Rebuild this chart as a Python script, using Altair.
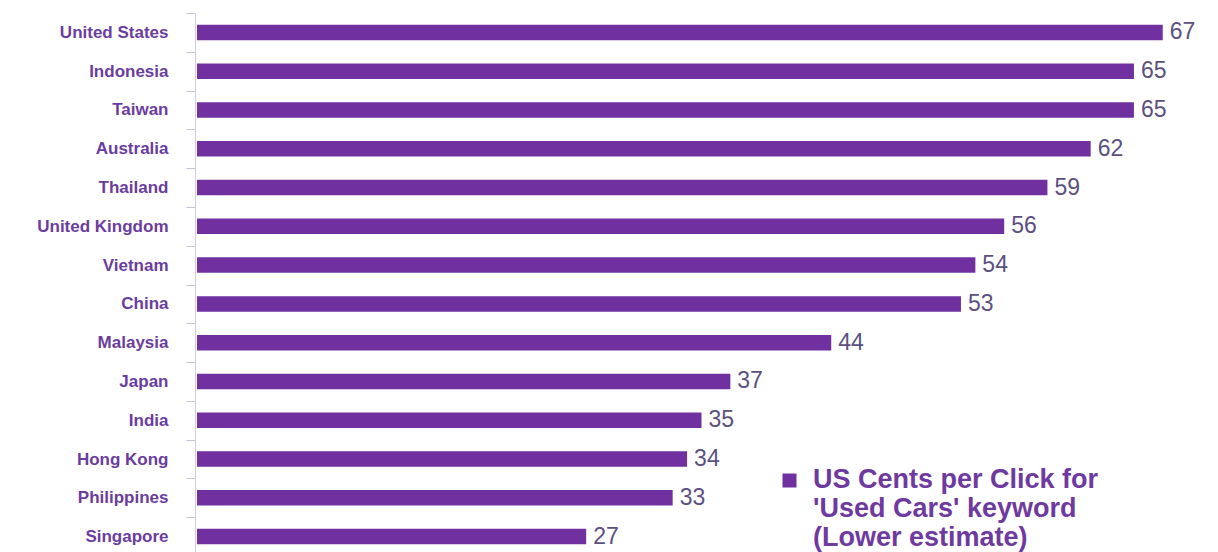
import altair as alt
import pandas as pd

countries = ["United States", "Indonesia", "Taiwan", "Australia", "Thailand",
             "United Kingdom", "Vietnam", "China", "Malaysia", "Japan", "India",
             "Hong Kong", "Philippines", "Singapore"]
cents = [67, 65, 65, 62, 59, 56, 54, 53, 44, 37, 35, 34, 33, 27]
series_name = "US Cents per Click for 'Used Cars' keyword (Lower estimate)"
legend_lines = ["US Cents per Click for", "'Used Cars' keyword", "(Lower estimate)"]

df = pd.DataFrame({"country": countries, "cents": cents, "series": [series_name] * len(countries)})

FONT = "Liberation Sans"

x = alt.X("cents:Q", scale=alt.Scale(domain=[0, 70], nice=False, zero=True), axis=None)
y = alt.Y(
    "country:N",
    sort=countries,
    scale=alt.Scale(range=[0, 543], paddingInner=0, paddingOuter=0),
    axis=alt.Axis(
        title=None,
        tickBand="extent",
        offset=2,
        tickSize=9,
        tickColor="#C9C1D9",
        domainColor="#D3CCE0",
        labelPadding=18,
        labelFont=FONT,
        labelFontSize=17,
        labelFontWeight="bold",
        labelColor="#6A3D9E",
        labelLimit=300,
    ),
)

bars = alt.Chart(df).mark_bar(height=15.5).encode(
    x=x,
    y=y,
    color=alt.Color(
        "series:N",
        scale=alt.Scale(range=["#7030A0"]),
        legend=alt.Legend(
            title=legend_lines,
            titleOrient="right",
            titleAnchor="start",
            titleFont=FONT,
            titleFontSize=27,
            titleFontWeight="bold",
            titleColor="#6E3AA0",
            titleLineHeight=29,
            titleBaseline="top",
            titleAlign="left",
            titleLimit=0,
            titlePadding=10,
            orient="none",
            legendX=579,
            legendY=454,
            symbolType="square",
            symbolSize=196,
            symbolStrokeWidth=0,
            symbolOpacity=1,
            labelExpr="''",
            labelFontSize=27,
            labelOffset=0,
            labelLimit=0,
        ),
    ),
)

labels = alt.Chart(df).mark_text(
    align="left", baseline="middle", dx=7, fontSize=23, font=FONT, color="#5C5080"
).encode(x=x, y=y, text="cents:Q")

chart = (bars + labels).properties(
    width=1009,
    height=531,
    autosize=alt.AutoSizeParams(type="none"),
    padding={"left": 189, "top": 5, "right": 4, "bottom": 8},
).configure_view(stroke=None)

chart.save("out.html", embed_options={"renderer": "svg", "actions": False})
